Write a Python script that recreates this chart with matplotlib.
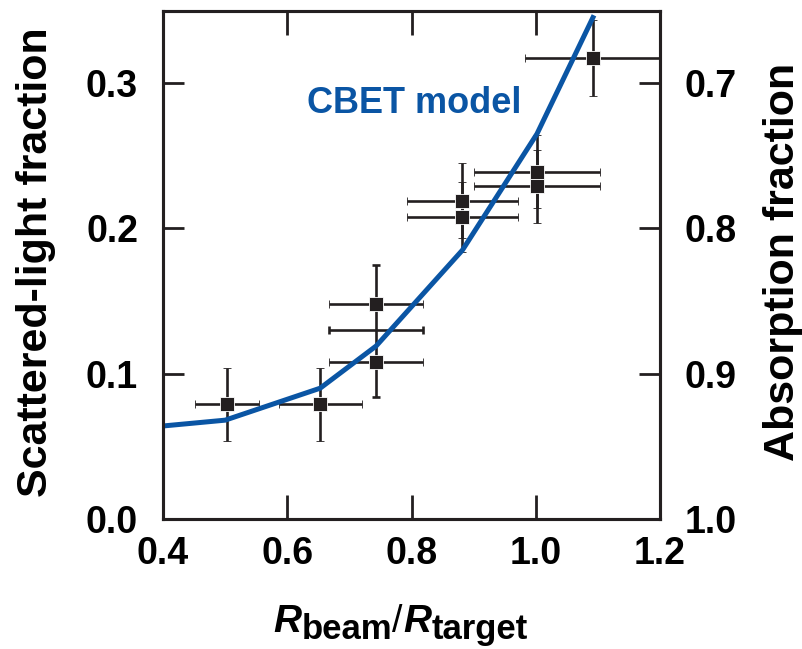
import matplotlib
matplotlib.use("Agg")
import matplotlib.pyplot as plt

plt.rcParams['font.family'] = ['Liberation Sans', 'DejaVu Sans']

# Data points with markers
mx = [0.503, 0.653, 0.743, 0.743, 0.882, 0.882, 1.002, 1.002, 1.092]
my = [0.079, 0.079, 0.148, 0.108, 0.219, 0.208, 0.239, 0.229, 0.317]
mxerr = [0.051, 0.067, 0.076, 0.076, 0.090, 0.090, 0.102, 0.102, 0.109]
myerr = [0.025, 0.025, 0.0, 0.0, 0.026, 0.024, 0.025, 0.025, 0.026]

# Unmarked bar (shared vertical error span of the 0.74 group)
ux = [0.743]
uy = [0.130]
uxerr = [0.076]
uyerr_lo = [0.046]
uyerr_hi = [0.0445]

# CBET model curve
model_x = [0.40, 0.50, 0.653, 0.743, 0.882, 1.002, 1.092]
model_y = [0.064, 0.068, 0.090, 0.119, 0.185, 0.265, 0.345]

x_ticks = [0.4, 0.6, 0.8, 1.0, 1.2]
x_ticklabels = ['0.4', '0.6', '0.8', '1.0', '1.2']
y_ticks = [0.0, 0.1, 0.2, 0.3]
y_ticklabels = ['0.0', '0.1', '0.2', '0.3']
y2_ticks = [0.7, 0.8, 0.9, 1.0]
y2_ticklabels = ['0.7', '0.8', '0.9', '1.0']

DARK = '#231f20'
BLUE = '#0a55a4'

W, H = 802, 649
fig = plt.figure(figsize=(W / 100, H / 100), dpi=100)
ax = fig.add_axes([163 / W, 1 - 519 / H, 497 / W, 508 / H])

ymax = (518.5 - 11) / 1452.0
ax.set_xlim(0.4, 1.2)
ax.set_ylim(0.0, ymax)

ax.errorbar(ux, uy, xerr=uxerr, yerr=[uyerr_lo, uyerr_hi], fmt='none',
            ecolor=DARK, elinewidth=1.9, capsize=3.2, capthick=1.9, zorder=2)
ax.errorbar(mx, my, xerr=mxerr, yerr=myerr, fmt='s', color=DARK,
            markersize=10, markeredgecolor='white', markeredgewidth=0.6,
            ecolor=DARK, elinewidth=1.9, capsize=3.2, capthick=1.9, zorder=3)
ax.plot(model_x, model_y, color=BLUE, linewidth=3.6, zorder=4,
        solid_joinstyle='round')

ax.text(0.632, 0.279, 'CBET model', color=BLUE, fontsize=26,
        fontweight='bold', ha='left', va='baseline')

for s in ax.spines.values():
    s.set_linewidth(2.2)
    s.set_color(DARK)

ax.set_xticks(x_ticks)
ax.set_xticklabels(x_ticklabels)
ax.set_yticks(y_ticks)
ax.set_yticklabels(y_ticklabels)
ax.tick_params(axis='x', which='major', direction='in', length=17, width=2.0,
               color=DARK, top=True, pad=12, labelsize=27)
ax.tick_params(axis='y', which='major', direction='in', length=15, width=2.0,
               color=DARK, right=False, pad=18, labelsize=27)
for lab in ax.get_xticklabels() + ax.get_yticklabels():
    lab.set_fontweight('bold')

ax2 = ax.twinx()
ax2.set_ylim(1.0, 1.0 - ymax)
ax2.set_yticks(y2_ticks)
ax2.set_yticklabels(y2_ticklabels)
ax2.tick_params(axis='y', direction='in', length=15, width=2.0, color=DARK,
                pad=18, labelsize=27)
for lab in ax2.get_yticklabels():
    lab.set_fontweight('bold')
for s in ax2.spines.values():
    s.set_linewidth(2.2)
    s.set_color(DARK)

fig.text(36 / W, 1 - 262 / H, 'Scattered-light fraction', rotation=90,
         fontsize=31, fontweight='bold', ha='center', va='center')
fig.text(783 / W, 1 - 262 / H, 'Absorption fraction', rotation=90,
         fontsize=31, fontweight='bold', ha='center', va='center')

# x label: R_beam / R_target
t1 = fig.text(273 / W, 1 - 632 / H, 'R', fontsize=28, fontweight='bold',
              fontstyle='italic', ha='left', va='baseline')
t2 = ax.annotate('beam', xy=(1, 0), xycoords=t1, xytext=(0.5, -4.5),
                 textcoords='offset points', fontsize=25, fontweight='bold',
                 ha='left', va='bottom', annotation_clip=False)
t3 = ax.annotate('/', xy=(1, 0), xycoords=t2, xytext=(0, 4.5),
                 textcoords='offset points', fontsize=27, fontweight='normal',
                 ha='left', va='bottom', annotation_clip=False)
t4 = ax.annotate('R', xy=(1, 0), xycoords=t3, xytext=(0, 0),
                 textcoords='offset points', fontsize=28, fontweight='bold',
                 fontstyle='italic', ha='left', va='bottom',
                 annotation_clip=False)
t5 = ax.annotate('target', xy=(1, 0), xycoords=t4, xytext=(0.5, -4.5),
                 textcoords='offset points', fontsize=25, fontweight='bold',
                 ha='left', va='bottom', annotation_clip=False)

fig.savefig('out.png', dpi=100)
